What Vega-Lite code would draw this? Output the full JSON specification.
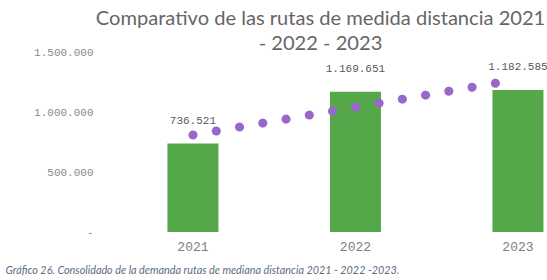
{
  "$schema": "https://vega.github.io/schema/vega-lite/v6.json",
  "autosize": "none",
  "padding": {"left": 112, "top": 52, "right": 0, "bottom": 48},
  "width": 435,
  "height": 180,
  "background": "white",
  "config": {
    "view": {"stroke": null},
    "locale": {"number": {"decimal": ",", "thousands": ".", "grouping": [3], "currency": ["", ""]}}
  },
  "title": {
    "text": ["Comparativo de las rutas de medida distancia 2021", "- 2022 - 2023"],
    "font": "Lato",
    "fontSize": 20.1,
    "fontWeight": "normal",
    "color": "#666666",
    "anchor": "middle",
    "dx": -9,
    "dy": 12,
    "offset": 4,
    "lineHeight": 25
  },
  "data": {
    "values": [
      {"year": "2021", "value": 736521, "label": "736.521", "trend": 808000},
      {"year": "2022", "value": 1169651, "label": "1.169.651", "trend": 1040000},
      {"year": "2023", "value": 1182585, "label": "1.182.585", "trend": 1272000}
    ]
  },
  "encoding": {
    "x": {
      "field": "year",
      "type": "nominal",
      "sort": null,
      "scale": {"paddingInner": 0.686, "paddingOuter": 0.1815, "align": 0.94},
      "axis": {
        "title": "Gráfico 26. Consolidado de la demanda rutas de mediana distancia 2021 - 2022 -2023.",
        "titleFont": "Lato",
        "titleFontStyle": "italic",
        "titleFontWeight": "normal",
        "titleFontSize": 10.8,
        "titleColor": "#5b6b85",
        "titleAnchor": "start",
        "titleAlign": "left",
        "titleBaseline": "middle",
        "titleX": -107,
        "titleY": 38,
        "labelAngle": 0,
        "labelFont": "Liberation Mono",
        "labelFontSize": 13,
        "labelColor": "#808080",
        "labelPadding": 14,
        "labelBaseline": "middle",
        "domain": false,
        "ticks": false,
        "grid": false
      }
    }
  },
  "layer": [
    {
      "mark": {"type": "bar", "color": "#55a84a"},
      "encoding": {
        "y": {
          "field": "value",
          "type": "quantitative",
          "scale": {"domain": [0, 1500000], "nice": false},
          "axis": {
            "title": null,
            "values": [0, 500000, 1000000, 1500000],
            "format": ",.0f",
            "labelExpr": "datum.value == 0 ? '-' : datum.label",
            "labelFont": "Liberation Mono",
            "labelFontSize": 11,
            "labelColor": "#8a8a8a",
            "labelPadding": 19,
            "domain": false,
            "ticks": false,
            "grid": false
          }
        }
      }
    },
    {
      "mark": {"type": "line", "color": "#9966cc", "strokeWidth": 9, "strokeCap": "round", "strokeDash": [0.1, 23.5]},
      "encoding": {
        "y": {"field": "trend", "type": "quantitative"}
      }
    },
    {
      "mark": {"type": "text", "font": "Liberation Mono", "fontSize": 11, "color": "#595959", "baseline": "middle", "dy": -23},
      "encoding": {
        "y": {"field": "value", "type": "quantitative"},
        "text": {"field": "label", "type": "nominal"}
      }
    }
  ]
}
